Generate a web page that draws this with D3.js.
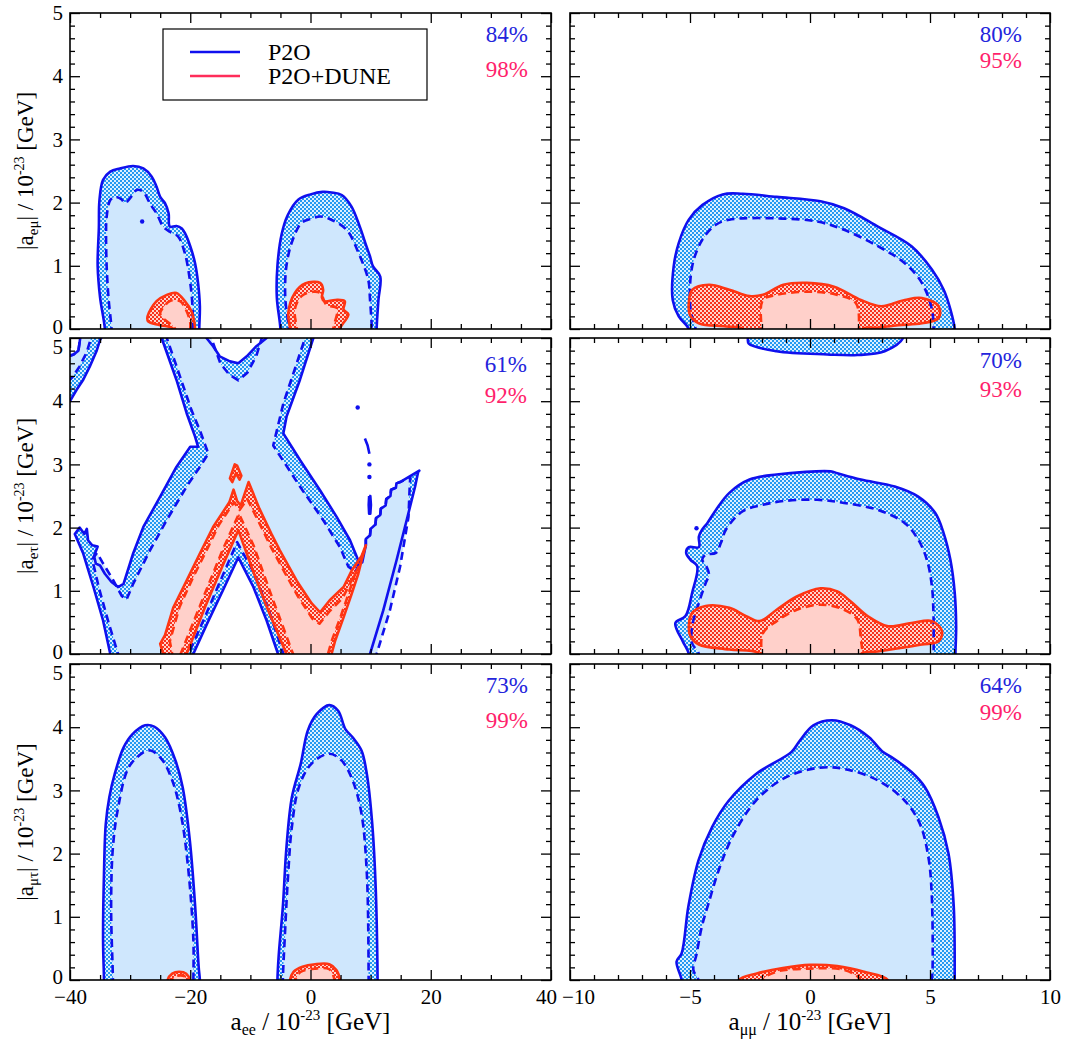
<!DOCTYPE html>
<html><head><meta charset="utf-8">
<script src="https://cdn.jsdelivr.net/npm/d3@7"></script>
<style>
body{margin:0;background:#fff}
svg{display:block}
</style>
</head><body>
<svg id="c" width="1069" height="1045"></svg>
<script>
// ---------------- DATA ----------------
const xTicksLeft = [-40,-20,0,20,40];
const xTickLabelsLeft = ["\u221240","\u221220","0","20","40"];
const xMinorLeft = [-35,-30,-25,-15,-10,-5,5,10,15,25,30,35];
const xTicksRight = [-10,-5,0,5,10];
const xTickLabelsRight = ["\u221210","\u22125","0","5","10"];
const xMinorRight = [-9,-8,-7,-6,-4,-3,-2,-1,1,2,3,4,6,7,8,9];
const yTicks = [0,1,2,3,4,5];
const yTickLabels = ["0","1","2","3","4","5"];
const yMinor = [0.2,0.4,0.6,0.8,1.2,1.4,1.6,1.8,2.2,2.4,2.6,2.8,3.2,3.4,3.6,3.8,4.2,4.4,4.6,4.8];
const ySubs = ["e\u03bc","e\u03c4","\u03bc\u03c4"];
const xSubs = ["ee","\u03bc\u03bc"];
const legendLabels = ["P2O","P2O+DUNE"];
const blueLabels = ["84%","80%","61%","70%","73%","64%"];
const redLabels  = ["98%","95%","92%","93%","99%","99%"];

// Panel 1: a_ee vs |a_emu|
const p1BlueSolidA = [[-34.2,-0.3],[-34.2,0],[-35.0,0.5],[-35.4,1.0],[-35.2,1.6],[-35.1,2.04],[-34.5,2.36],[-33.3,2.49],[-31.7,2.54],[-29.5,2.58],[-27.8,2.54],[-26.4,2.41],[-25.6,2.25],[-25.0,2.09],[-24.2,1.99],[-23.6,1.83],[-23.4,1.62],[-22.3,1.63],[-21.4,1.59],[-20.9,1.52],[-20.0,1.31],[-19.2,1.04],[-18.7,0.73],[-18.4,0.36],[-18.5,0],[-18.5,-0.3]];
const p1BlueDashA = [[-33.1,-0.3],[-33.1,0],[-33.6,0.5],[-33.9,0.99],[-34.0,1.5],[-33.9,1.78],[-33.3,2.04],[-32.5,2.09],[-31.4,2.05],[-30.9,1.99],[-30.0,2.07],[-28.9,2.2],[-27.8,2.17],[-27.0,2.04],[-26.4,1.94],[-25.6,1.83],[-24.5,1.62],[-23.4,1.54],[-22.0,1.46],[-20.9,1.2],[-20.0,0.73],[-19.6,0.3],[-19.6,0],[-19.6,-0.3]];
const p1RedSolidA = [[-22.8,-0.3],[-22.8,0],[-25.0,0.06],[-27.0,0.12],[-27.1,0.2],[-25.6,0.44],[-23.9,0.54],[-22.3,0.57],[-20.9,0.44],[-19.8,0.28],[-19.3,0.1],[-19.2,0],[-19.2,-0.3]];
const p1RedDashA = [[-22.5,-0.3],[-22.5,0],[-24.5,0.17],[-25.0,0.25],[-23.4,0.44],[-21.7,0.44],[-20.6,0.28],[-20.0,0.1],[-20.0,0],[-20.0,-0.3]];
const p1BlueSolidB = [[-5.0,-0.3],[-5.0,0],[-5.6,0.5],[-5.5,1.0],[-4.8,1.5],[-3.8,1.8],[-2.0,2.05],[0,2.13],[2,2.17],[3.5,2.16],[5.2,2.12],[6.8,1.94],[8.2,1.62],[9.3,1.31],[9.9,1.15],[10.4,0.99],[11.6,0.83],[11.3,0.46],[11.0,0],[11.0,-0.3]];
const p1BlueDashB = [[-3.6,-0.3],[-3.6,0],[-4.2,0.5],[-4.0,1.0],[-3.0,1.4],[-1.5,1.68],[0,1.74],[1.6,1.78],[3.2,1.74],[6.0,1.57],[8.0,1.2],[9.6,0.78],[9.9,0.46],[10.2,0],[10.2,-0.3]];
const p1RedSolidB = [[-3.4,-0.3],[-3.4,0],[-3.7,0.25],[-2.6,0.57],[-0.9,0.72],[1.6,0.73],[2.1,0.62],[1.9,0.5],[2.3,0.44],[4.1,0.46],[5.7,0.44],[5.5,0.31],[6.3,0.23],[4.9,0],[4.9,-0.3]];
const p1RedDashB = [[-2.3,-0.3],[-2.3,0],[-2.6,0.31],[-1.5,0.52],[0.5,0.59],[1.6,0.57],[2.7,0.38],[4.4,0.33],[3.8,0],[3.8,-0.3]];
const p1Dots = [[-28.0,1.7]];

// Panel 2: a_mumu vs |a_emu|
const p2BlueSolid = [[-5.05,-0.3],[-5.05,0],[-5.47,0.2],[-5.72,0.46],[-5.68,0.99],[-5.47,1.36],[-5.05,1.73],[-4.49,1.96],[-3.64,2.13],[-2.8,2.14],[-1.39,2.09],[0.44,2.02],[1.42,1.91],[2.83,1.62],[4.23,1.31],[5.08,0.94],[5.57,0.62],[5.85,0.31],[6.03,0],[6.03,-0.3]];
const p2BlueDash = [[-4.77,-0.3],[-4.77,0],[-4.98,0.31],[-4.91,0.99],[-4.49,1.41],[-3.92,1.65],[-3.36,1.73],[-1.39,1.75],[0.3,1.7],[1.42,1.57],[2.83,1.31],[3.95,1.04],[4.66,0.73],[5.08,0.31],[5.15,0],[5.15,-0.3]];
const p2RedSolid = [[-2.8,-0.3],[-2.8,0],[-3.5,0.04],[-4.63,0.09],[-5.0,0.22],[-5.05,0.41],[-4.91,0.62],[-4.21,0.7],[-3.36,0.62],[-2.52,0.52],[-1.96,0.54],[-1.11,0.7],[-0.13,0.73],[1.0,0.67],[2.12,0.46],[2.97,0.36],[3.95,0.46],[4.66,0.49],[5.36,0.36],[5.36,0.17],[4.66,0.09],[3.67,0.06],[2.83,0.02],[2.2,0],[2.2,-0.3]];
const p2RedDash = [[-2.03,-0.3],[-2.03,0],[-1.96,0.46],[-1.39,0.54],[0,0.59],[1.14,0.54],[1.91,0.41],[2.05,0],[2.05,-0.3]];

// Panel 3: a_ee vs |a_etau|
const p3BlueSolidCorner = [[-40.5,4.0],[-40,4.0],[-38.9,4.18],[-37.8,4.34],[-36.7,4.55],[-35.6,4.79],[-35.0,4.97],[-34.8,5.0],[-34.8,5.3],[-38.3,5.3],[-38.3,5.0],[-38.6,4.8],[-39.4,4.74],[-40,4.72],[-40.5,4.72]];
const p3BlueDashCorner = [[-40.5,4.3],[-39.6,4.38],[-38.4,4.55],[-37.2,4.78],[-36.5,5.0],[-36.5,5.3],[-38.3,5.3],[-38.3,5.0],[-38.6,4.8],[-39.4,4.74],[-40,4.72],[-40.5,4.72]];
const p3BlueSolidX = [[-33.3,-0.3],[-33.3,0],[-34.5,0.53],[-36.1,1.06],[-37.8,1.59],[-39.2,1.9],[-38.4,2.0],[-37.6,1.9],[-37.2,1.98],[-37.0,1.8],[-36.3,1.72],[-35.4,1.7],[-36.0,1.55],[-35.7,1.43],[-35.0,1.4],[-34.2,1.27],[-33.1,1.14],[-32.0,1.06],[-31.1,1.11],[-29.5,1.59],[-27.8,2.01],[-25.0,2.49],[-22.3,2.96],[-20.0,3.28],[-18.7,3.28],[-19.2,3.44],[-20.6,3.81],[-22.3,4.34],[-24.76,5.0],[-24.76,5.3],[-17.3,5.3],[-17.3,5.0],[-16.2,4.87],[-15.1,4.71],[-13.4,4.63],[-12.0,4.6],[-10.6,4.71],[-9.0,4.87],[-7.3,5.0],[-7.3,5.3],[0.47,5.3],[0.47,5.0],[-1.75,4.34],[-3.97,3.76],[-4.52,3.49],[-1.75,3.07],[1.58,2.59],[4.35,2.17],[6.57,1.8],[7.95,1.48],[8.6,1.45],[9.2,1.72],[9.2,1.82],[9.9,1.88],[10.0,1.98],[10.8,2.05],[10.9,2.15],[11.6,2.2],[11.7,2.3],[12.5,2.35],[12.6,2.45],[13.3,2.5],[13.4,2.6],[14.2,2.63],[14.3,2.7],[14.9,2.72],[18.1,2.9],[17.9,2.88],[17.4,2.65],[16.0,2.12],[14.3,1.48],[12.1,0.69],[9.9,0],[9.9,-0.3],[-5.4,-0.3],[-5.4,0],[-7.3,0.53],[-9.5,1.06],[-12.0,1.53],[-14.6,1.0],[-17.1,0.5],[-19.5,0],[-19.5,-0.3]];
const p3BlueDashX = [[-32.0,-0.3],[-32.0,0],[-33.6,0.5],[-35.2,1.05],[-36.3,1.5],[-35.5,1.6],[-34.6,1.45],[-33.0,1.2],[-31.4,0.92],[-30.6,0.86],[-29.5,1.11],[-26.7,1.64],[-23.9,2.12],[-20.6,2.65],[-18.4,2.96],[-17.0,3.17],[-18.4,3.54],[-19.8,3.86],[-21.7,4.39],[-23.9,5.0],[-23.9,5.3],[-16.5,5.3],[-16.5,5.0],[-15.0,4.6],[-13.5,4.42],[-12.0,4.33],[-10.5,4.45],[-9.0,4.72],[-8.1,5.0],[-8.1,5.3],[-0.9,5.3],[-0.9,5.0],[-2.85,4.44],[-4.5,3.97],[-6.2,3.3],[-1.75,2.65],[2.1,2.12],[4.9,1.69],[6.3,1.38],[7.5,1.3],[8.6,1.55],[9.2,1.72],[9.2,1.82],[9.9,1.88],[10.0,1.98],[10.8,2.05],[10.9,2.15],[11.6,2.2],[11.7,2.3],[12.5,2.35],[12.6,2.45],[13.3,2.5],[13.4,2.6],[14.2,2.63],[14.3,2.7],[14.9,2.72],[16.6,2.8],[16.5,2.65],[16.3,2.17],[14.9,1.38],[13.2,0.69],[11.0,0],[11.0,-0.3],[-4.5,-0.3],[-4.5,0],[-6.7,0.63],[-9.5,1.3],[-12.2,1.77],[-14.8,1.2],[-17.5,0.6],[-20.3,0],[-20.3,-0.3]];
const p3RedSolid = [[-24.5,-0.3],[-24.5,0],[-25.0,0.16],[-24.2,0.3],[-22.8,0.74],[-20.6,1.16],[-18.4,1.59],[-16.2,2.01],[-13.5,2.4],[-12.8,2.6],[-12.2,2.42],[-11.6,2.35],[-10.3,2.72],[-8.5,2.3],[-6.5,1.9],[-5.1,1.64],[-2.3,1.16],[0.2,0.8],[1.6,0.66],[3.2,0.85],[5.5,1.06],[6.85,1.32],[8.5,1.55],[9.2,1.72],[8.5,1.48],[7.95,1.27],[6.85,0.95],[5.5,0.58],[4.1,0.21],[3.5,0],[3.5,-0.3],[-4.0,-0.3],[-4.0,0],[-7.3,0.75],[-9.7,1.35],[-12.0,1.96],[-14.6,1.4],[-17.5,0.75],[-20.6,0],[-20.6,-0.3]];
const p3RedDash = [[-23.0,-0.3],[-23.0,0],[-23.4,0.2],[-21.8,0.74],[-19.6,1.2],[-17.4,1.62],[-15.2,2.05],[-13.3,2.32],[-12.7,2.4],[-11.8,2.28],[-10.5,2.45],[-8.4,2.05],[-6.4,1.66],[-4.8,1.38],[-2.2,0.93],[0.3,0.56],[1.5,0.48],[3.2,0.68],[5.3,0.88],[6.6,1.12],[8.0,1.38],[7.35,1.25],[6.25,0.93],[4.9,0.56],[3.5,0.2],[2.9,0],[2.9,-0.3],[-2.9,-0.3],[-2.9,0],[-6.6,0.95],[-9.4,1.7],[-11.9,2.22],[-14.6,1.65],[-17.8,0.9],[-21.6,0],[-21.6,-0.3]];
const p3RedPeak = [[-13.4,2.78],[-12.6,3.0],[-12.2,2.98],[-11.5,2.82],[-11.8,2.76],[-12.4,2.86],[-13.0,2.72]];
const p3Dots = [[7.85,3.9],[9.8,3.0],[9.8,2.8]];
const p3Blips = [[[9.05,3.41],[9.5,3.3],[9.8,3.17]],[[9.75,2.5],[9.95,2.5],[10.05,2.36],[9.95,2.22],[9.75,2.22],[9.68,2.36],[9.75,2.5]]];

// Panel 4: a_mumu vs |a_etau|
const p4BlueSolidTop = [[-2.59,5.3],[-2.59,5.0],[-2.55,4.91],[-1.39,4.79],[0.72,4.74],[1.98,4.73],[3.11,4.79],[3.88,5.0],[3.88,5.3]];
const p4BlueSolid = [[-5.05,-0.3],[-5.05,0],[-5.3,0.2],[-5.61,0.49],[-5.19,0.6],[-4.91,0.97],[-4.7,1.39],[-4.98,1.49],[-5.16,1.6],[-5.05,1.69],[-4.63,1.69],[-4.63,1.86],[-4.49,1.97],[-4.28,2.07],[-3.92,2.28],[-3.36,2.55],[-2.52,2.76],[-1.39,2.84],[0.86,2.89],[1.14,2.86],[2.12,2.76],[3.53,2.65],[4.51,2.49],[5.22,2.23],[5.57,1.91],[5.85,1.49],[6.03,0.97],[6.09,0.44],[6.06,0],[6.06,-0.3]];
const p4BlueDash = [[-4.63,-0.3],[-4.63,0],[-4.91,0.17],[-4.91,0.44],[-4.63,0.81],[-4.35,1.12],[-4.21,1.26],[-4.35,1.41],[-4.49,1.49],[-4.35,1.57],[-3.92,1.6],[-3.71,1.76],[-3.5,1.97],[-2.8,2.26],[-1.96,2.36],[-1.11,2.42],[0.3,2.44],[1.42,2.39],[2.83,2.28],[3.95,2.07],[4.51,1.81],[4.87,1.49],[5.08,1.07],[5.15,0.54],[5.15,0],[5.15,-0.3]];
const p4RedSolid = [[-2.1,-0.3],[-2.1,0],[-3.36,0.07],[-4.63,0.15],[-4.98,0.28],[-5.05,0.44],[-4.91,0.65],[-4.35,0.76],[-3.36,0.73],[-2.66,0.6],[-2.1,0.52],[-1.39,0.7],[-0.55,0.91],[0.44,1.04],[1.14,0.99],[1.7,0.83],[2.4,0.6],[3.25,0.44],[4.23,0.49],[5.08,0.52],[5.5,0.36],[5.36,0.2],[4.66,0.15],[3.7,0.09],[2.83,0.04],[2.12,0],[2.12,-0.3]];
const p4RedDash = [[-2.03,-0.3],[-2.03,0],[-1.96,0.33],[-1.39,0.52],[-0.55,0.7],[0.44,0.78],[1.42,0.7],[1.98,0.54],[2.12,0.23],[2.19,0],[2.19,-0.3]];
const p4Dots = [[-4.73,1.99]];

// Panel 5: a_ee vs |a_mutau|
const p5BlueSolidA = [[-34.35,-0.3],[-34.35,0],[-34.5,0.63],[-34.35,1.68],[-34.05,2.47],[-33.46,2.89],[-32.56,3.26],[-31.08,3.68],[-29.6,3.89],[-27.5,4.03],[-26.0,4.01],[-24.2,3.84],[-22.45,3.47],[-21.26,3.05],[-20.07,2.21],[-19.18,1.16],[-18.6,0.21],[-18.4,0],[-18.4,-0.3]];
const p5BlueDashA = [[-32.86,-0.3],[-32.86,0],[-33.16,1.16],[-32.86,2.1],[-31.97,2.74],[-30.2,3.37],[-27.8,3.6],[-26.6,3.63],[-24.8,3.5],[-23.0,3.16],[-21.56,2.63],[-20.37,1.79],[-19.48,0.63],[-19.48,0],[-19.48,-0.3]];
const p5RedSolidA = [[-23.76,-0.3],[-23.76,0],[-23.0,0.1],[-21.85,0.13],[-20.66,0.1],[-20.07,0],[-20.07,-0.3]];
const p5RedDashA = [[-23.0,-0.3],[-23.0,0],[-22.4,0.06],[-21.0,0.06],[-20.66,0],[-20.66,-0.3]];
const p5BlueSolidB = [[-5.5,-0.3],[-5.5,0],[-5.3,0.37],[-4.6,1.16],[-4.0,2.1],[-3.1,2.89],[-1.63,3.42],[-0.44,3.95],[1.05,4.21],[3.13,4.35],[4.6,4.26],[5.8,3.97],[7.0,3.84],[8.48,3.63],[9.37,3.26],[10.27,2.47],[10.86,1.42],[11.16,0],[11.16,-0.3]];
const p5BlueDashB = [[-4.6,-0.3],[-4.6,0],[-4.3,0.63],[-3.71,1.68],[-3.1,2.42],[-1.93,3.05],[0.15,3.42],[3.13,3.58],[5.2,3.47],[7.0,3.16],[8.48,2.63],[9.37,1.68],[9.67,0],[9.67,-0.3]];
const p5RedSolidB = [[-3.41,-0.3],[-3.41,0],[-2.82,0.13],[-1.33,0.21],[0.75,0.25],[3.13,0.25],[4.3,0.16],[4.9,0],[4.9,-0.3]];
const p5RedDashB = [[-2.5,-0.3],[-2.5,0],[-1.6,0.13],[0.75,0.18],[3.13,0.17],[4.0,0],[4.0,-0.3]];

// Panel 6: a_mumu vs |a_mutau|
const p6BlueSolid = [[-5.35,-0.3],[-5.35,0],[-5.56,0.29],[-5.35,0.42],[-5.07,1.16],[-4.65,1.89],[-4.08,2.42],[-3.38,2.84],[-2.25,3.26],[-0.77,3.61],[-0.42,3.79],[0.14,4.03],[0.92,4.11],[1.69,4.03],[2.46,3.84],[3.03,3.61],[3.38,3.53],[4.23,3.29],[4.79,3.05],[5.35,2.58],[5.77,2.0],[5.99,1.16],[6.03,0],[6.03,-0.3]];
const p6BlueDash = [[-4.65,-0.3],[-4.65,0],[-4.86,0.16],[-4.72,0.42],[-4.51,0.84],[-4.23,1.21],[-3.8,1.74],[-3.24,2.26],[-2.25,2.84],[-0.99,3.21],[0.42,3.36],[1.41,3.34],[2.82,3.16],[3.94,2.84],[4.58,2.47],[4.93,1.95],[5.07,1.37],[5.1,0.1],[5.07,0],[5.07,-0.3]];
const p6RedSolid = [[-2.96,-0.3],[-2.96,0],[-2.25,0.1],[-1.13,0.19],[0,0.24],[1.13,0.22],[2.25,0.13],[3.24,0],[3.24,-0.3]];
const p6RedDash = [[-1.97,-0.3],[-1.97,0],[-1.41,0.13],[0,0.18],[1.41,0.16],[2.11,0],[2.11,-0.3]];

// ---------------- LAYOUT / STYLE ----------------
const FONT = "'Liberation Serif','Tinos','Times New Roman','DejaVu Serif',serif";
const colX = [[70,551],[570,1050]];
const rowY = [[13,329],[338,654],[664,980]];
const pctPos = [[528,42,77],[1022,42,68],[527,372,403],[1022,368,397],[528,693,728],[1022,693,720]];
const C = {blueLine:"#1010ee", redLine:"#ff3512", lightBlue:"#cfe7fd", lightRed:"#ffd0ca",
           pctBlue:"#2424dc", pctRed:"#ff1f6c", legRed:"#ff2d5a"};

const panels = [
 {r:0,c:0, xd:[-40,40], smooth:true,  bo:[p1BlueSolidA,p1BlueSolidB], bi:[p1BlueDashA,p1BlueDashB], ro:[p1RedSolidA,p1RedSolidB], ri:[p1RedDashA,p1RedDashB], dots:p1Dots, blips:[]},
 {r:0,c:1, xd:[-10,10], smooth:true,  bo:[p2BlueSolid], bi:[p2BlueDash], ro:[p2RedSolid], ri:[p2RedDash], dots:[], blips:[]},
 {r:1,c:0, xd:[-40,40], smooth:false, bo:[p3BlueSolidCorner,p3BlueSolidX], bi:[p3BlueDashCorner,p3BlueDashX], ro:[p3RedSolid,p3RedPeak], ri:[p3RedDash], dots:p3Dots, blips:p3Blips},
 {r:1,c:1, xd:[-10,10], smooth:true,  bo:[p4BlueSolidTop,p4BlueSolid], bi:[p4BlueDash], ro:[p4RedSolid], ri:[p4RedDash], dots:p4Dots, blips:[]},
 {r:2,c:0, xd:[-40,40], smooth:true,  bo:[p5BlueSolidA,p5BlueSolidB], bi:[p5BlueDashA,p5BlueDashB], ro:[p5RedSolidA,p5RedSolidB], ri:[p5RedDashA,p5RedDashB], dots:[], blips:[]},
 {r:2,c:1, xd:[-10,10], smooth:true,  bo:[p6BlueSolid], bi:[p6BlueDash], ro:[p6RedSolid], ri:[p6RedDash], dots:[], blips:[]}
];

const svg = d3.select("#c").style("font-family",FONT);
const defs = svg.append("defs");
function checker(id, light, dark){
  const p = defs.append("pattern").attr("id",id).attr("width",4).attr("height",4).attr("patternUnits","userSpaceOnUse");
  p.append("rect").attr("width",4).attr("height",4).attr("fill",light);
  p.append("rect").attr("width",2).attr("height",2).attr("fill",dark);
  p.append("rect").attr("x",2).attr("y",2).attr("width",2).attr("height",2).attr("fill",dark);
}
checker("chkBlue","#dcefff","#2499f2");
checker("chkRed","#ffd4cc","#f7301c");

function txt(sel,size){ return sel.style("font-family",FONT).style("font-size",size+"px"); }

panels.forEach((p,i)=>{
  const [x0,x1]=colX[p.c], [y0,y1]=rowY[p.r];
  const x=d3.scaleLinear().domain(p.xd).range([x0,x1]);
  const y=d3.scaleLinear().domain([0,5]).range([y1,y0]);
  const cid="clip"+i;
  defs.append("clipPath").attr("id",cid).append("rect").attr("x",x0).attr("y",y0).attr("width",x1-x0).attr("height",y1-y0);
  const g=svg.append("g").attr("clip-path",`url(#${cid})`);
  const line=d3.line().x(d=>x(d[0])).y(d=>y(d[1])).curve(p.smooth?d3.curveCatmullRom.alpha(0.5):d3.curveLinear);
  const lineLin=d3.line().x(d=>x(d[0])).y(d=>y(d[1]));
  const poly=d=>line(d)+"Z";
  const fill=(arr,f)=>g.append("g").selectAll("path").data(arr).join("path").attr("d",poly).attr("fill",f).attr("stroke","none");
  const stroke=(arr,col,dash)=>g.append("g").selectAll("path").data(arr).join("path").attr("d",poly)
      .attr("fill","none").attr("stroke",col).attr("stroke-width",2.6).attr("stroke-linejoin","round")
      .attr("stroke-dasharray",dash||null);
  fill(p.bo,"url(#chkBlue)");
  fill(p.bi,C.lightBlue);
  fill(p.ro,"url(#chkRed)");
  fill(p.ri,C.lightRed);
  stroke(p.bi,C.blueLine,"8,5");
  stroke(p.bo,C.blueLine);
  g.append("g").selectAll("path").data(p.blips).join("path").attr("d",lineLin)
    .attr("fill","none").attr("stroke",C.blueLine).attr("stroke-width",2.6).attr("stroke-linejoin","round");
  g.append("g").selectAll("circle").data(p.dots).join("circle")
    .attr("cx",d=>x(d[0])).attr("cy",d=>y(d[1])).attr("r",2.2).attr("fill",C.blueLine);
  stroke(p.ri,C.redLine,"8,5");
  stroke(p.ro,C.redLine);

  // axes
  const ax=svg.append("g");
  const xMaj = p.c===0?xTicksLeft:xTicksRight;
  const xMin = p.c===0?xMinorLeft:xMinorRight;
  const xLab = p.c===0?xTickLabelsLeft:xTickLabelsRight;
  const style=sel=>{sel.select(".domain").remove(); sel.selectAll("line").attr("stroke","#000").attr("stroke-width",1.3);
     sel.attr("font-family",null).attr("font-size",null);
     txt(sel.selectAll("text").attr("fill","#000"),21);};
  ax.append("g").attr("transform",`translate(0,${y1})`).call(d3.axisBottom(x).tickValues(xMin).tickSize(-5).tickFormat("")).call(style);
  const xb=ax.append("g").attr("transform",`translate(0,${y1})`).call(d3.axisBottom(x).tickValues(xMaj).tickSize(-10).tickPadding(9)
     .tickFormat((d,k)=>p.r===2?xLab[k]:"")).call(style);
  if(p.r===2){
    if(p.c===0) xb.selectAll(".tick").filter(d=>d===40).select("text").attr("transform","translate(-5,0)");
    if(p.c===1) xb.selectAll(".tick").filter(d=>d===-10).select("text").attr("transform","translate(8,0)");
  }
  ax.append("g").attr("transform",`translate(0,${y0})`).call(d3.axisTop(x).tickValues(xMin).tickSize(-5).tickFormat("")).call(style);
  ax.append("g").attr("transform",`translate(0,${y0})`).call(d3.axisTop(x).tickValues(xMaj).tickSize(-10).tickFormat("")).call(style);
  ax.append("g").attr("transform",`translate(${x0},0)`).call(d3.axisLeft(y).tickValues(yMinor).tickSize(-5).tickFormat("")).call(style);
  const yl=ax.append("g").attr("transform",`translate(${x0},0)`).call(d3.axisLeft(y).tickValues(yTicks).tickSize(-10).tickPadding(7)
     .tickFormat((d,k)=>p.c===0?yTickLabels[k]:"")).call(style);
  if(p.r>0) yl.selectAll(".tick").filter(d=>d===5).select("text").attr("transform","translate(0,9)");
  yl.selectAll(".tick").filter(d=>d===0).select("text").attr("transform",`translate(0,${p.r===2?-3:-2})`);
  ax.append("g").attr("transform",`translate(${x1},0)`).call(d3.axisRight(y).tickValues(yMinor).tickSize(-5).tickFormat("")).call(style);
  ax.append("g").attr("transform",`translate(${x1},0)`).call(d3.axisRight(y).tickValues(yTicks).tickSize(-10).tickFormat("")).call(style);
  svg.append("rect").attr("x",x0).attr("y",y0).attr("width",x1-x0).attr("height",y1-y0)
     .attr("fill","none").attr("stroke","#000").attr("stroke-width",1.6);

  // percentages
  const [px,pb,pr]=pctPos[i];
  txt(svg.append("text").attr("x",px).attr("y",pb).attr("text-anchor","end"),23).style("fill",C.pctBlue).text(blueLabels[i]);
  txt(svg.append("text").attr("x",px).attr("y",pr).attr("text-anchor","end"),23).style("fill",C.pctRed).text(redLabels[i]);

  // y titles
  if(p.c===0){
    const cy=(y0+y1)/2;
    const t=txt(svg.append("text").attr("transform",`translate(33,${cy}) rotate(-90)`).attr("text-anchor","middle"),23).style("fill","#000");
    t.append("tspan").text("|a");
    t.append("tspan").attr("dy",5).style("font-size","15px").text(ySubs[p.r]);
    t.append("tspan").attr("dy",-5).text("| / 10");
    t.append("tspan").attr("dy",-9).style("font-size","14px").text("-23");
    t.append("tspan").attr("dy",9).text(" [GeV]");
  }
  // x titles
  if(p.r===2){
    const cx=(x0+x1)/2;
    const t=txt(svg.append("text").attr("x",cx).attr("y",1030).attr("text-anchor","middle"),25).style("fill","#000");
    t.append("tspan").text("a");
    t.append("tspan").attr("dy",5).style("font-size","16px").text(xSubs[p.c]);
    t.append("tspan").attr("dy",-5).text(" / 10");
    t.append("tspan").attr("dy",-10).style("font-size","15px").text("-23");
    t.append("tspan").attr("dy",10).text(" [GeV]");
  }
});

// legend
const lg=svg.append("g");
lg.append("rect").attr("x",163).attr("y",29).attr("width",264).attr("height",71).attr("fill","#fff").attr("stroke","#000").attr("stroke-width",1.2);
const legCols=[C.blueLine,C.legRed];
legendLabels.forEach((l,k)=>{
  const yy=52+k*24;
  lg.append("line").attr("x1",190).attr("x2",240).attr("y1",yy).attr("y2",yy).attr("stroke",legCols[k]).attr("stroke-width",2.6);
  txt(lg.append("text").attr("x",268).attr("y",yy+8),24).style("fill","#000").text(l);
});
</script>
</body></html>
